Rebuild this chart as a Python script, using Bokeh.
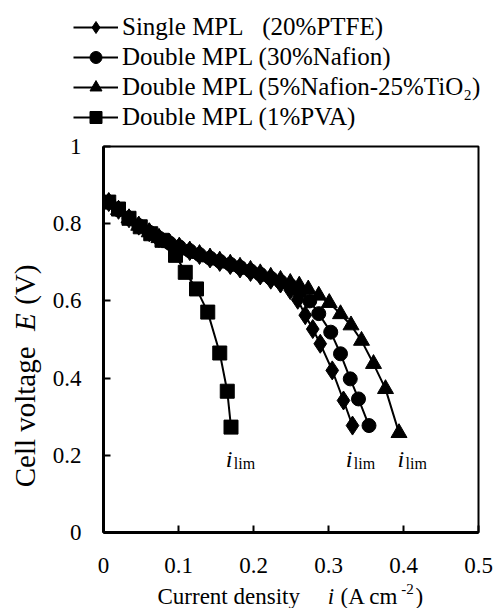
import math
from bokeh.plotting import figure
from bokeh.layouts import column, row
from bokeh.models import Legend, LegendItem, FixedTicker, Range1d, ColumnDataSource
from bokeh.embed import file_html
from bokeh.resources import INLINE
from bokeh.core.properties import value

FONT = "Liberation Serif"

# ---------------- data ----------------
ptfe_x = [0.007, 0.020, 0.034, 0.047, 0.061, 0.074, 0.088, 0.101, 0.115, 0.128, 0.142, 0.155,
          0.169, 0.182, 0.196, 0.209, 0.223, 0.236, 0.249, 0.259, 0.269, 0.279, 0.289, 0.305,
          0.320, 0.332]
ptfe_y = [0.856, 0.836, 0.814, 0.795, 0.778, 0.763, 0.750, 0.740, 0.729, 0.719, 0.710, 0.701,
          0.693, 0.684, 0.675, 0.666, 0.655, 0.645, 0.628, 0.603, 0.563, 0.527, 0.489, 0.420,
          0.342, 0.277]

nafion_x = [0.007, 0.020, 0.034, 0.047, 0.061, 0.074, 0.088, 0.101, 0.115, 0.128, 0.142, 0.155,
            0.169, 0.182, 0.196, 0.209, 0.223, 0.236, 0.249, 0.262, 0.275, 0.287, 0.303, 0.316,
            0.329, 0.340, 0.354]
nafion_y = [0.856, 0.836, 0.814, 0.795, 0.778, 0.763, 0.750, 0.740, 0.730, 0.720, 0.711, 0.703,
            0.695, 0.687, 0.678, 0.669, 0.659, 0.650, 0.640, 0.625, 0.600, 0.567, 0.519, 0.463,
            0.398, 0.346, 0.277]

tio2_x = [0.007, 0.020, 0.034, 0.047, 0.061, 0.074, 0.088, 0.101, 0.115, 0.128, 0.142, 0.155,
          0.169, 0.182, 0.196, 0.209, 0.223, 0.236, 0.249, 0.261, 0.273, 0.287, 0.301, 0.316,
          0.330, 0.344, 0.360, 0.376, 0.394]
tio2_y = [0.856, 0.836, 0.814, 0.795, 0.778, 0.763, 0.750, 0.740, 0.731, 0.722, 0.713, 0.705,
          0.697, 0.689, 0.681, 0.672, 0.663, 0.655, 0.647, 0.640, 0.630, 0.614, 0.595, 0.566,
          0.537, 0.497, 0.437, 0.372, 0.258]

pva_x = [0.007, 0.020, 0.034, 0.049, 0.063, 0.078, 0.096, 0.109, 0.124, 0.139, 0.155, 0.165, 0.170]
pva_y = [0.856, 0.838, 0.814, 0.792, 0.774, 0.757, 0.718, 0.674, 0.631, 0.571, 0.465, 0.366, 0.273]

series_labels = ["Single MPL\u00a0\u00a0\u00a0(20%PTFE)",
                 "Double MPL (30%Nafion)",
                 "Double MPL (5%Nafion-25%TiO\u2082)",
                 "Double MPL (1%PVA)"]

x_ticks = [0, 0.1, 0.2, 0.3, 0.4, 0.5]
x_tick_labels = ["0", "0.1", "0.2", "0.3", "0.4", "0.5"]
y_ticks = [0, 0.2, 0.4, 0.6, 0.8, 1.0]
y_tick_labels = ["0", "0.2", "0.4", "0.6", "0.8", "1"]

ilim_x = [0.163, 0.323, 0.392]
ilim_y = [0.19, 0.19, 0.19]

# axis-title pieces: (text, style, font size, position along the axis, raise in px)
xtitle = [("Current density", "normal", "23px", 0.072, 0),
          ("i", "italic", "23px", 0.299, 0),
          ("(A cm", "normal", "23px", 0.316, 0),
          ("-2", "normal", "15px", 0.397, 7),
          (")", "normal", "23px", 0.416, 0)]
ytitle = [("Cell voltage", "normal", "29px", 0.117, 0),
          ("E", "italic", "29px", 0.522, 0),
          ("(V)", "normal", "29px", 0.590, 0)]

specs = [(ptfe_x, ptfe_y, "diamond", 19),
         (nafion_x, nafion_y, "circle", 14),
         (tio2_x, tio2_y, "triangle", 16),
         (pva_x, pva_y, "square", 14)]

# page layout (pixels)
W, H = 503, 608
LEG_H, XT_H, YT_W = 132, 28, 46
FRAME_L, FRAME_R = 103, 478
px_unit = (x_ticks[-1] - x_ticks[0]) / (FRAME_R - FRAME_L)

def strip(**kw):
    f = figure(output_backend="svg", toolbar_location=None,
               x_axis_location=None, y_axis_location=None,
               min_border_left=0, min_border_right=0, **kw)
    f.grid.visible = False
    f.outline_line_color = None
    return f

# ---------------- legend strip (top) ----------------
lf = strip(width=W, height=LEG_H, x_range=Range1d(-10, -9), y_range=Range1d(-10, -9),
           min_border_top=0, min_border_bottom=0)
items = []
for (xs, ys, marker, size), lab in zip(specs, series_labels):
    src = ColumnDataSource(dict(x=xs, y=ys))
    lr = lf.line("x", "y", source=src, line_color="black", line_width=2)
    sr = lf.scatter("x", "y", source=src, marker=marker, size=size,
                    fill_color="black", line_color="black")
    items.append(LegendItem(label=lab, renderers=[lr, sr]))
legend = Legend(items=items, location=(73, 0), orientation="vertical",
                label_text_font=FONT, label_text_font_size="25px", label_text_color="black",
                glyph_width=45, glyph_height=30, label_height=30, spacing=0,
                padding=0, margin=0, label_standoff=4,
                border_line_color=None, background_fill_alpha=0)
lf.add_layout(legend)

# ---------------- main figure ----------------
main_h = H - LEG_H - XT_H
p = figure(width=W - YT_W, height=main_h, output_backend="svg", toolbar_location=None,
           x_range=Range1d(x_ticks[0], x_ticks[-1]), y_range=Range1d(y_ticks[0], y_ticks[-1]),
           min_border_left=FRAME_L - YT_W, min_border_right=W - FRAME_R,
           min_border_top=14, min_border_bottom=48)
p.xgrid.visible = False
p.ygrid.visible = False
p.outline_line_color = "black"
p.outline_line_width = 2

for ax, ticks, labels, standoff in ((p.xaxis[0], x_ticks, x_tick_labels, 25),
                                    (p.yaxis[0], y_ticks, y_tick_labels, 22)):
    ax.ticker = FixedTicker(ticks=ticks)
    ax.major_label_overrides = {t: l for t, l in zip(ticks, labels)}
    ax.major_label_text_font = FONT
    ax.major_label_text_font_size = "23px"
    ax.major_label_text_color = "black"
    ax.major_label_standoff = standoff
    ax.axis_line_width = 3
    ax.axis_line_color = "black"
    ax.major_tick_line_width = 2
    ax.major_tick_line_color = "black"
    ax.major_tick_in = 7
    ax.major_tick_out = 0
    ax.minor_tick_line_color = None

for xs, ys, marker, size in specs:
    src = ColumnDataSource(dict(x=xs, y=ys))
    p.line("x", "y", source=src, line_color="black", line_width=2)
    p.scatter("x", "y", source=src, marker=marker, size=size,
              fill_color="black", line_color="black")

isrc = ColumnDataSource(dict(x=ilim_x, y=ilim_y))
p.text("x", "y", text=value("i"), source=isrc, text_font=value(FONT),
       text_font_style="italic", text_font_size="24px", text_baseline="alphabetic",
       text_align="left", text_color="black")
p.text("x", "y", text=value("lim"), source=isrc, text_font=value(FONT),
       text_font_size="16px", text_baseline="alphabetic", text_align="left",
       text_color="black", x_offset=8, y_offset=4)

# ---------------- y-axis title strip ----------------
yf = strip(width=YT_W, height=main_h, x_range=Range1d(0, 1), y_range=p.y_range,
           min_border_top=14, min_border_bottom=48)
for txt, style, size, pos, _ in ytitle:
    yf.text(x=[0.54], y=[pos], text=[txt], text_font=value(FONT), text_font_style=style,
            text_font_size=size, text_baseline="middle", text_align="left",
            angle=math.pi / 2, text_color="black")

# ---------------- x-axis title strip (same data units as the main x axis) ----------------
xf = strip(width=W, height=XT_H,
           x_range=Range1d(x_ticks[0] - FRAME_L * px_unit, x_ticks[-1] + (W - FRAME_R) * px_unit),
           y_range=Range1d(0, 1), min_border_top=0, min_border_bottom=0)
for txt, style, size, pos, lift in xtitle:
    xf.text(x=[pos], y=[0.43], text=[txt], text_font=value(FONT), text_font_style=style,
            text_font_size=size, text_baseline="middle", text_align="left",
            y_offset=-lift, text_color="black")

layout = column(lf, row(yf, p, spacing=0), xf, spacing=0)
open("out.html", "w").write(file_html(layout, INLINE))
